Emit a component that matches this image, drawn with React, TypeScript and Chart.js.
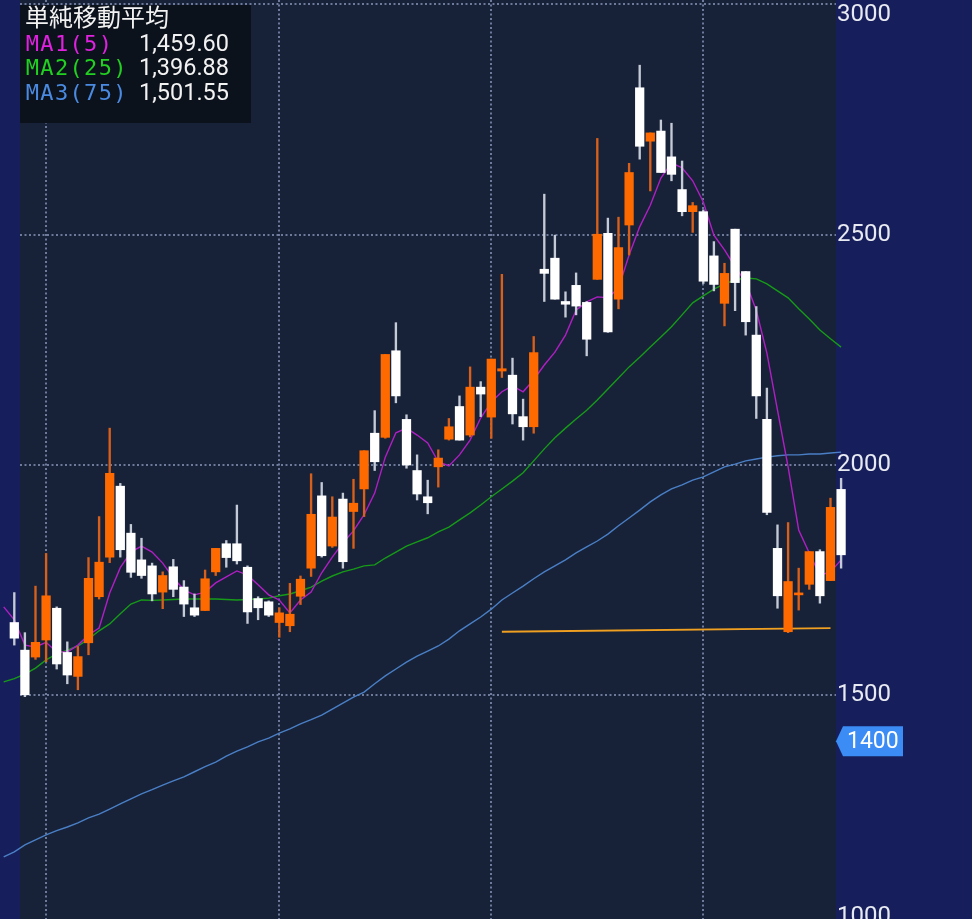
import React, { useEffect, useRef } from "react";
import { Chart, registerables } from "chart.js";

Chart.register(...registerables);

// ---- data (candles 1..79; moving averages 0..79) ----
const OPEN = [1658,1598,1583,1620,1689,1593,1541,1614,1714,1800,1954,1852,1794,1781,1724,1779,1735,1690,1684,1768,1829,1829,1778,1710,1703,1658,1651,1715,1776,1933,1824,1926,1899,1948,2069,2060,2248,2099,1988,1931,1996,2056,2127,2065,2169,2104,2204,2195,2105,2083,2425,2449,2355,2390,2353,2403,2503,2360,2521,2819,2703,2725,2669,2598,2550,2550,2454,2351,2512,2420,2282,2099,1819,1638,1718,1741,1812,1749,1947];
const HIGH = [1723,1636,1737,1808,1692,1616,1606,1799,1888,2080,1960,1871,1841,1787,1768,1795,1749,1720,1772,1819,1836,1913,1781,1714,1705,1690,1743,1759,1981,1962,1931,1939,1969,2031,2118,2240,2309,2109,2022,1967,2033,2101,2150,2213,2181,2230,2414,2232,2143,2279,2588,2499,2376,2417,2355,2709,2536,2538,2655,2868,2721,2749,2742,2660,2570,2554,2485,2438,2512,2420,2344,2167,1870,1875,1776,1812,1816,1928,1971];
const LOW = [1609,1497,1578,1573,1557,1525,1512,1588,1709,1788,1800,1756,1754,1705,1688,1714,1671,1671,1684,1760,1778,1785,1656,1664,1671,1626,1638,1697,1758,1800,1821,1776,1819,1888,1988,2058,2135,1993,1924,1894,1952,2054,2054,2061,2105,2058,2190,2089,2054,2069,2355,2360,2321,2326,2237,2403,2288,2339,2456,2664,2595,2635,2617,2541,2505,2394,2378,2302,2335,2282,2101,1892,1689,1636,1685,1730,1700,1749,1776];
const CLOSE = [1624,1501,1615,1716,1568,1544,1584,1754,1789,1982,1816,1767,1760,1720,1760,1730,1698,1674,1753,1819,1799,1792,1681,1690,1674,1679,1676,1752,1893,1803,1887,1790,1917,2031,2007,2240,2150,2000,1937,1918,2015,2083,2054,2169,2154,2230,2209,2111,2083,2244,2416,2360,2349,2345,2273,2501,2289,2472,2635,2692,2721,2635,2631,2550,2563,2399,2392,2416,2396,2311,2150,1897,1716,1747,1722,1812,1716,1908,1805];

const MA1 = [1692,1664,1609,1605,1615,1594,1594,1609,1631,1646,1722,1777,1811,1824,1811,1787,1755,1729,1718,1724,1744,1757,1770,1761,1740,1718,1707,1679,1707,1724,1766,1800,1831,1857,1892,1939,2017,2070,2080,2065,2048,2007,1998,2022,2054,2102,2137,2159,2172,2159,2185,2217,2245,2282,2336,2354,2365,2363,2384,2456,2517,2564,2623,2656,2645,2617,2571,2499,2467,2430,2397,2336,2243,2119,1996,1859,1809,1761,1768,1794];
const MA2 = [1529,1536,1546,1559,1577,1590,1598,1607,1622,1640,1655,1677,1698,1707,1706,1707,1708,1709,1709,1709,1709,1708,1707,1708,1709,1711,1716,1720,1727,1735,1748,1759,1768,1774,1781,1783,1798,1811,1824,1833,1842,1855,1865,1881,1896,1913,1931,1948,1965,1983,2009,2035,2059,2080,2100,2119,2141,2165,2189,2213,2234,2256,2278,2300,2326,2352,2367,2382,2393,2402,2406,2404,2393,2378,2363,2339,2317,2293,2274,2256];
const MA3 = [1149,1160,1175,1186,1197,1206,1214,1223,1234,1242,1253,1264,1275,1286,1295,1305,1314,1323,1334,1345,1355,1368,1379,1388,1399,1407,1418,1427,1438,1447,1457,1470,1483,1496,1507,1525,1542,1557,1572,1585,1596,1607,1622,1640,1655,1670,1687,1707,1722,1737,1753,1768,1781,1794,1809,1822,1835,1850,1868,1885,1902,1920,1935,1948,1957,1967,1974,1985,1996,2002,2009,2013,2017,2020,2022,2022,2024,2024,2026,2028];

const SUPPORT_X = [47, 78];
const SUPPORT_Y = [1638, 1646];

const Y_TICKS = [3000, 2500, 2000, 1500, 1000];
const GRID_IDX = [4, 26, 46, 66];
const CURRENT_PRICE = 1400;

const LEGEND_TITLE = "単純移動平均";
const LEGEND_LABELS = ["MA1(5)", "MA2(25)", "MA3(75)"];
const LEGEND_VALUES = ["1,459.60", "1,396.88", "1,501.55"];

// ---- styles ----
const NAVY = "#161f5b";
const PLOT_BG = "#172238";
const PLOT_L = 20;
const PLOT_R = 836;
const UP = "#ff6a00";
const DOWN = "#ffffff";
const UP_WICK = "#d8601a";
const DOWN_WICK = "#c4cad6";
const LEGEND_COLORS = ["#e021e0", "#22d022", "#4a8ae0"];

const chartPlugin = {
  id: "decor",
  beforeDatasetsDraw(chart: any) {
    const { ctx, width, height } = chart;
    const ys = chart.scales.y;
    const xs = chart.scales.x;
    ctx.save();
    ctx.fillStyle = NAVY;
    ctx.fillRect(0, 0, width, height);
    ctx.fillStyle = PLOT_BG;
    ctx.fillRect(PLOT_L, 0, PLOT_R - PLOT_L, height);
    ctx.strokeStyle = "rgba(125,138,172,0.85)";
    ctx.lineWidth = 2;
    ctx.setLineDash([2, 2.5]);
    Y_TICKS.forEach((v) => {
      const y = Math.round(ys.getPixelForValue(v));
      ctx.beginPath();
      ctx.moveTo(PLOT_L, y);
      ctx.lineTo(PLOT_R, y);
      ctx.stroke();
    });
    GRID_IDX.forEach((i) => {
      const x = Math.round(xs.getPixelForValue(i));
      ctx.beginPath();
      ctx.moveTo(x, 0);
      ctx.lineTo(x, height);
      ctx.stroke();
    });
    ctx.restore();
  },
  afterDraw(chart: any) {
    const { ctx } = chart;
    const ys = chart.scales.y;
    ctx.save();
    // axis labels
    ctx.font = "24px Roboto";
    ctx.fillStyle = "#e8eaf2";
    ctx.textBaseline = "middle";
    ctx.textAlign = "left";
    Y_TICKS.forEach((v) => {
      let y = ys.getPixelForValue(v);
      y = Math.max(15, Math.min(917, y));
      ctx.fillText(String(v), PLOT_R + 1, y);
    });
    // current price tag
    const py = ys.getPixelForValue(CURRENT_PRICE);
    ctx.fillStyle = "#3b8cf4";
    ctx.beginPath();
    ctx.moveTo(PLOT_R, py);
    ctx.lineTo(PLOT_R + 7, py - 15);
    ctx.lineTo(903, py - 15);
    ctx.lineTo(903, py + 15);
    ctx.lineTo(PLOT_R + 7, py + 15);
    ctx.closePath();
    ctx.fill();
    ctx.fillStyle = "#ffffff";
    ctx.font = "23px Roboto";
    ctx.fillText(String(CURRENT_PRICE), 847, py + 1);
    // legend box
    ctx.fillStyle = "#0c121c";
    ctx.fillRect(20, 5, 231, 118);
    ctx.fillStyle = "#f2f2f2";
    ctx.font = "24px 'Noto Sans CJK JP'";
    ctx.fillText(LEGEND_TITLE, 25, 17);
    const rowY = [45, 69.5, 94];
    LEGEND_LABELS.forEach((lab, r) => {
      ctx.fillStyle = LEGEND_COLORS[r];
      ctx.font = "22px 'DejaVu Sans Mono'";
      ctx.textAlign = "center";
      for (let k = 0; k < lab.length; k++) {
        ctx.fillText(lab[k], 25 + 14.6 * k + 7.3, rowY[r]);
      }
      ctx.textAlign = "right";
      ctx.fillStyle = "#f2f2f2";
      ctx.font = "23.5px Roboto";
      ctx.fillText(LEGEND_VALUES[r], 229, rowY[r]);
    });
    ctx.restore();
  },
};

export default function App() {
  const ref = useRef<HTMLCanvasElement | null>(null);
  useEffect(() => {
    if (!ref.current) return;
    const idx = OPEN.map((_, i) => i + 1);
    const isUp = OPEN.map((o, i) => CLOSE[i] >= o);
    const line = (arr: number[], color: string) => ({
      type: "line" as const,
      data: arr.map((v, i) => ({ x: i, y: v })),
      borderColor: color,
      borderWidth: 1.4,
      pointRadius: 0,
      tension: 0,
      order: 2,
    });
    const chart = new Chart(ref.current, {
      type: "bar",
      data: {
        datasets: [
          {
            type: "bar",
            data: idx.map((x, i) => ({ x, y: [OPEN[i], CLOSE[i]] })) as any,
            backgroundColor: isUp.map((u) => (u ? UP : DOWN)),
            borderWidth: 0,
            barThickness: 8.6,
            minBarLength: 2,
            grouped: false,
            order: 0,
          } as any,
          {
            type: "bar",
            data: idx.map((x, i) => ({ x, y: [LOW[i], HIGH[i]] })) as any,
            backgroundColor: isUp.map((u) => (u ? UP_WICK : DOWN_WICK)),
            borderWidth: 0,
            barThickness: 1.7,
            grouped: false,
            order: 1,
          } as any,
          line(MA1, "#b01ec4"),
          line(MA2, "#169a18"),
          line(MA3, "#4a7fc6"),
          {
            type: "line",
            data: SUPPORT_X.map((x, i) => ({ x, y: SUPPORT_Y[i] })),
            borderColor: "#f0a020",
            borderWidth: 1.8,
            pointRadius: 0,
            order: 2,
          } as any,
        ],
      },
      options: {
        animation: false,
        responsive: false,
        devicePixelRatio: 1,
        layout: { padding: 0 },
        plugins: { legend: { display: false }, tooltip: { enabled: false } },
        scales: {
          x: { type: "linear", min: -0.349, max: 91.35, display: false, offset: false },
          y: { type: "linear", min: 1014.3, max: 3009.55, display: false, beginAtZero: false },
        },
      },
      plugins: [chartPlugin],
    });
    return () => chart.destroy();
  }, []);
  return (
    <div style={{ position: "fixed", left: 0, top: 0, width: 972, height: 919, overflow: "hidden" }}>
      <canvas ref={ref} width={972} height={919} style={{ display: "block", width: 972, height: 919 }} />
    </div>
  );
}
